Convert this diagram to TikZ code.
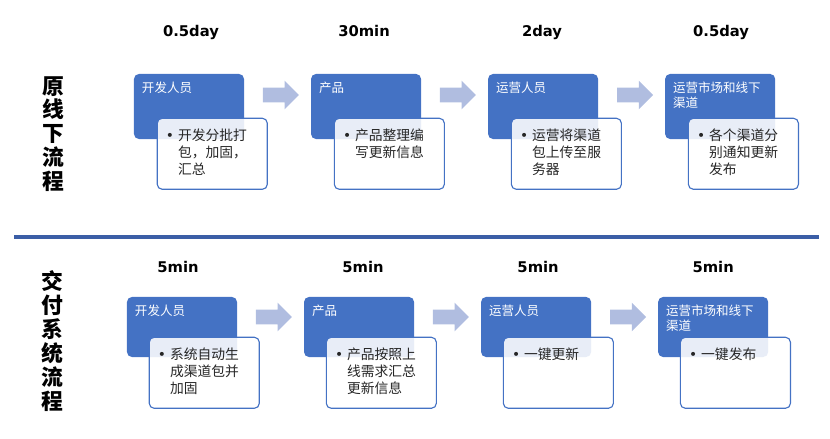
\documentclass[tikz,border=0pt]{standalone}
\usepackage{fontspec}
\setmainfont{Noto Sans CJK SC}
\newfontfamily\timefont{DejaVu Sans}
\usepackage{xcolor}
\usepackage{tikz}
\usetikzlibrary{shapes.arrows, positioning}

\definecolor{boxblue}{HTML}{4472C4}
\definecolor{arrowblue}{HTML}{B0BDE0}
\definecolor{lineblue}{HTML}{3B5EA6}

% bullet with hanging lines
\newcommand{\itemlines}[1]{\begin{tabular}{@{}l@{\hspace{2.8pt}}l@{}}{\timefont •} & #1\end{tabular}}

\begin{document}
\begin{tikzpicture}[x=0.025cm, y=-0.025cm, node distance=4.425cm]
    \tikzstyle{role} = [rectangle, rounded corners=3.5pt, fill=boxblue, minimum width=2.75cm, minimum height=1.625cm, inner sep=0pt]
    \tikzstyle{roletext} = [anchor=north west, inner sep=0pt, text=white, align=left, font=\fontsize{8.9}{10.6}\selectfont]
    \tikzstyle{detail} = [rectangle, rounded corners=3.5pt, draw=boxblue, line width=0.8pt, fill=white, fill opacity=0.88, minimum width=2.75cm, minimum height=1.775cm, anchor=north west, inner sep=0pt]
    \tikzstyle{detailtext} = [anchor=north west, inner sep=0pt, text=black!85, font=\fontsize{9.8}{12}\selectfont]
    \tikzstyle{flow} = [single arrow, fill=arrowblue, minimum height=0.9cm, inner xsep=0pt, inner ysep=0.175cm, single arrow head extend=0.175cm, single arrow head indent=0pt]
    \tikzstyle{duration} = [text height=8pt, text depth=2pt, font=\timefont\bfseries\fontsize{10.5}{12}\selectfont]
    \tikzstyle{stage} = [align=center, inner sep=0pt, font=\bfseries\fontsize{15.5}{17}\selectfont]

    \useasboundingbox (0,0) rectangle (830,439);

    % offline flow
    \node [stage] (old) at (53,134) {原\\线\\下\\流\\程};

    \node [role] (s1) at (189,106.5) {};
    \node [role, right of=s1] (s2) {};
    \node [role, right of=s2] (s3) {};
    \node [role, right of=s3] (s4) {};

    \node [duration] (ts1) at ([shift={(2,-74)}]s1.center) {0.5day};
    \node [duration] (ts2) at ([shift={(-2,-74)}]s2.center) {30min};
    \node [duration] (ts3) at ([shift={(-1,-74)}]s3.center) {2day};
    \node [duration] (ts4) at ([shift={(1,-74)}]s4.center) {0.5day};

    \node [roletext] (hs1) at ([shift={(8,8)}]s1.north west) {开发人员};
    \node [roletext] (hs2) at ([shift={(8,8)}]s2.north west) {产品};
    \node [roletext] (hs3) at ([shift={(8,8)}]s3.north west) {运营人员};
    \node [roletext] (hs4) at ([shift={(8,8)}]s4.north west) {运营市场和线下\\渠道};

    \node [detail] (d1) at ([shift={(23,44)}]s1.north west) {};
    \node [detail] (d2) at ([shift={(23,44)}]s2.north west) {};
    \node [detail] (d3) at ([shift={(23,44)}]s3.north west) {};
    \node [detail] (d4) at ([shift={(23,44)}]s4.north west) {};

    \node [detailtext] (ds1) at ([shift={(9,11)}]d1.north west) {\itemlines{开发分批打\\ & 包，加固，\\ & 汇总}};
    \node [detailtext] (ds2) at ([shift={(9,11)}]d2.north west) {\itemlines{产品整理编\\ & 写更新信息}};
    \node [detailtext] (ds3) at ([shift={(9,11)}]d3.north west) {\itemlines{运营将渠道\\ & 包上传至服\\ & 务器}};
    \node [detailtext] (ds4) at ([shift={(9,11)}]d4.north west) {\itemlines{各个渠道分\\ & 别通知更新\\ & 发布}};

    \node [flow] (f1) at ([shift={(33,-11.5)}]s1.east) {};
    \node [flow] (f2) at ([shift={(33,-11.5)}]s2.east) {};
    \node [flow] (f3) at ([shift={(33,-11.5)}]s3.east) {};

    % separator
    \coordinate (sepl) at (14,237);
    \coordinate (sepr) at (819,237);
    \draw [lineblue, line width=2.2pt] (sepl) -- (sepr);

    % system flow
    \node [stage] (new) at (52,341) {交\\付\\系\\统\\流\\程};

    \node [role, minimum height=1.5cm] (b1) at (182,327) {};
    \node [role, minimum height=1.5cm, right of=b1] (b2) {};
    \node [role, minimum height=1.5cm, right of=b2] (b3) {};
    \node [role, minimum height=1.5cm, right of=b3] (b4) {};

    \node [duration] (tb1) at ([shift={(-4,-59)}]b1.center) {5min};
    \node [duration] (tb2) at ([shift={(4,-59)}]b2.center) {5min};
    \node [duration] (tb3) at ([shift={(2,-59)}]b3.center) {5min};
    \node [duration] (tb4) at ([shift={(0,-59)}]b4.center) {5min};

    \node [roletext] (hb1) at ([shift={(8,8)}]b1.north west) {开发人员};
    \node [roletext] (hb2) at ([shift={(8,8)}]b2.north west) {产品};
    \node [roletext] (hb3) at ([shift={(8,8)}]b3.north west) {运营人员};
    \node [roletext] (hb4) at ([shift={(8,8)}]b4.north west) {运营市场和线下\\渠道};

    \node [detail] (e1) at ([shift={(22,40)}]b1.north west) {};
    \node [detail] (e2) at ([shift={(22,40)}]b2.north west) {};
    \node [detail] (e3) at ([shift={(22,40)}]b3.north west) {};
    \node [detail] (e4) at ([shift={(22,40)}]b4.north west) {};

    \node [detailtext] (es1) at ([shift={(9,11)}]e1.north west) {\itemlines{系统自动生\\ & 成渠道包并\\ & 加固}};
    \node [detailtext] (es2) at ([shift={(9,11)}]e2.north west) {\itemlines{产品按照上\\ & 线需求汇总\\ & 更新信息}};
    \node [detailtext] (es3) at ([shift={(9,11)}]e3.north west) {\itemlines{一键更新}};
    \node [detailtext] (es4) at ([shift={(9,11)}]e4.north west) {\itemlines{一键发布}};

    \node [flow] (g1) at ([shift={(33,-10)}]b1.east) {};
    \node [flow] (g2) at ([shift={(33,-10)}]b2.east) {};
    \node [flow] (g3) at ([shift={(33,-10)}]b3.east) {};
\end{tikzpicture}
\end{document}
